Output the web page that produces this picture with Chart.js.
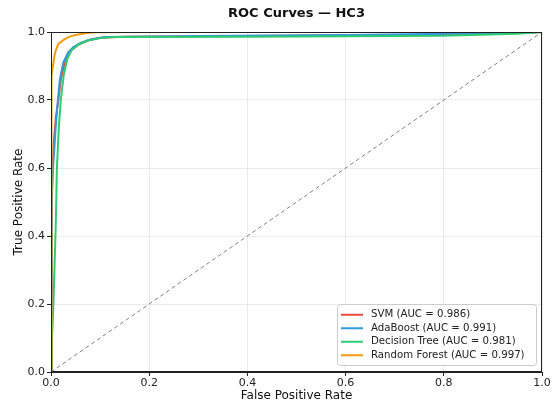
<!DOCTYPE html>
<html>
<head>
<meta charset="utf-8">
<script src="https://cdn.jsdelivr.net/npm/chart.js@4/dist/chart.umd.min.js"></script>
<style>
    html, body { margin: 0; padding: 0; background: #fff; }
    #wrap { width: 552px; height: 402px; }
</style>
</head>
<body>
<div id="wrap"><canvas id="roc" width="552" height="402"></canvas></div>
<script>
        // ROC points (FPR, TPR)
        const svmFpr = [0, 0.001, 0.002, 0.003, 0.006, 0.010, 0.015, 0.020, 0.028, 0.040, 0.055, 0.075, 0.1, 0.15, 0.4, 0.8, 0.95, 1.0];
        const svmTpr = [0, 0.2, 0.45, 0.6, 0.68, 0.75, 0.80, 0.86, 0.91, 0.945, 0.962, 0.975, 0.983, 0.986, 0.988, 0.992, 0.997, 1.0];

        const adaFpr = [0, 0.001, 0.002, 0.004, 0.007, 0.010, 0.014, 0.018, 0.025, 0.035, 0.045, 0.06, 0.08, 0.11, 0.3, 0.6, 0.9, 1.0];
        const adaTpr = [0, 0.35, 0.52, 0.6, 0.66, 0.73, 0.8, 0.86, 0.91, 0.94, 0.955, 0.968, 0.978, 0.985, 0.988, 0.991, 0.996, 1.0];

        const dtFpr = [0, 0.002, 0.005, 0.008, 0.010, 0.012, 0.016, 0.020, 0.026, 0.033, 0.042, 0.055, 0.075, 0.1, 0.13, 0.4, 0.8, 0.95, 1.0];
        const dtTpr = [0, 0.1, 0.2, 0.35, 0.45, 0.6, 0.72, 0.8, 0.874, 0.92, 0.947, 0.962, 0.975, 0.982, 0.985, 0.986, 0.989, 0.995, 1.0];

        const rfFpr = [0, 0, 0.001, 0.002, 0.004, 0.007, 0.010, 0.015, 0.025, 0.035, 0.05, 0.07, 0.09, 0.2, 0.5, 1.0];
        const rfTpr = [0, 0.68, 0.8, 0.87, 0.9, 0.93, 0.947, 0.965, 0.976, 0.985, 0.991, 0.996, 0.999, 1.0, 1.0, 1.0];

        const chanceLine = [0, 1];
        const modelLabels = ['SVM (AUC = 0.986)', 'AdaBoost (AUC = 0.991)', 'Decision Tree (AUC = 0.981)', 'Random Forest (AUC = 0.997)'];
        const tickValues = [0, 0.2, 0.4, 0.6, 0.8, 1.0];
        const chartTitle = 'ROC Curves — HC3';

        const toPoints = (xs, ys) => xs.map((x, i) => ({ x: x, y: ys[i] }));

        const FONT = 'DejaVu Sans';

        // title centred over the plot area (matplotlib style), plus the frame
        const framePlugin = {
            id: 'frame',
            afterDatasetsDraw(chart) {
                const a = chart.chartArea;
                const ctx = chart.ctx;
                ctx.save();
                ctx.strokeStyle = '#222';
                ctx.lineWidth = 1;
                ctx.strokeRect(a.left + 0.5, a.top + 0.5, a.right - a.left - 1, a.bottom - a.top - 1);
                ctx.fillStyle = '#111';
                ctx.font = 'bold 13px ' + FONT;
                ctx.textAlign = 'center';
                ctx.textBaseline = 'middle';
                ctx.fillText(chartTitle, (a.left + a.right) / 2, 14);
                ctx.restore();
            }
        };

        // legend box in the lower right of the plot
        const legendPlugin = {
            id: 'innerLegend',
            afterDraw(chart) {
                const a = chart.chartArea;
                const ctx = chart.ctx;
                const sets = chart.data.datasets.filter(d => d.inLegend);
                const rowH = 13.5;
                const boxW = 199;
                const boxH = sets.length * rowH + 7;
                const bx = a.right - 6 - boxW;
                const by = a.bottom - 7 - boxH;
                ctx.save();
                ctx.fillStyle = 'rgba(255,255,255,0.85)';
                ctx.strokeStyle = '#cccccc';
                ctx.lineWidth = 1;
                ctx.beginPath();
                ctx.roundRect(bx + 0.5, by + 0.5, boxW, boxH, 3);
                ctx.fill();
                ctx.stroke();
                ctx.font = '10.2px ' + FONT;
                ctx.textBaseline = 'middle';
                sets.forEach((d, i) => {
                    const cy = by + 4 + rowH * i + rowH / 2;
                    ctx.strokeStyle = d.borderColor;
                    ctx.lineWidth = 2;
                    ctx.beginPath();
                    ctx.moveTo(bx + 4, cy);
                    ctx.lineTo(bx + 26, cy);
                    ctx.stroke();
                    ctx.fillStyle = '#222';
                    ctx.fillText(d.label, bx + 34, cy);
                });
                ctx.restore();
            }
        };

        const ctx = document.getElementById('roc').getContext('2d');
        const rocChart = new Chart(ctx, {
            type: 'line',
            data: {
                datasets: [
                    {
                        label: 'Chance',
                        data: toPoints(chanceLine, chanceLine),
                        borderColor: '#808080',
                        borderWidth: 1,
                        borderDash: [4, 3],
                        pointRadius: 0,
                        inLegend: false,
                        order: 5
                    },
                    {
                        label: modelLabels[0],
                        data: toPoints(svmFpr, svmTpr),
                        borderColor: '#e74c3c',
                        borderWidth: 2,
                        pointRadius: 0,
                        inLegend: true,
                        order: 4
                    },
                    {
                        label: modelLabels[1],
                        data: toPoints(adaFpr, adaTpr),
                        borderColor: '#3498db',
                        borderWidth: 2,
                        pointRadius: 0,
                        inLegend: true,
                        order: 3
                    },
                    {
                        label: modelLabels[2],
                        data: toPoints(dtFpr, dtTpr),
                        borderColor: '#2ecc71',
                        borderWidth: 2,
                        pointRadius: 0,
                        inLegend: true,
                        order: 2
                    },
                    {
                        label: modelLabels[3],
                        data: toPoints(rfFpr, rfTpr),
                        borderColor: '#f39c12',
                        borderWidth: 2,
                        pointRadius: 0,
                        inLegend: true,
                        order: 1
                    }
                ]
            },
            options: {
                responsive: false,
                animation: false,
                layout: { padding: { left: 0, right: 10, top: 32, bottom: 0 } },
                plugins: {
                    legend: { display: false },
                    tooltip: { enabled: false },
                    title: { display: false }
                },
                scales: {
                    x: {
                        type: 'linear',
                        min: 0,
                        max: 1,
                        afterBuildTicks: s => { s.ticks = tickValues.map(v => ({ value: v })); },
                        afterFit: s => { s.height = 30; },
                        ticks: {
                            color: '#222',
                            font: { family: FONT, size: 11 },
                            padding: 1,
                            maxRotation: 0,
                            callback: v => v.toFixed(1)
                        },
                        grid: { color: 'rgba(0,0,0,0.08)', tickColor: '#222', tickLength: 4 },
                        border: { color: '#222' },
                        title: {
                            display: true,
                            text: 'False Positive Rate',
                            color: '#111',
                            font: { family: FONT, size: 12, lineHeight: 1 },
                            padding: { top: 0, bottom: 0 }
                        }
                    },
                    y: {
                        type: 'linear',
                        min: 0,
                        max: 1,
                        afterBuildTicks: s => { s.ticks = tickValues.map(v => ({ value: v })); },
                        afterFit: s => { s.width = 51; },
                        ticks: {
                            color: '#222',
                            font: { family: FONT, size: 11 },
                            padding: 2,
                            callback: v => v.toFixed(1)
                        },
                        grid: { color: 'rgba(0,0,0,0.08)', tickColor: '#222', tickLength: 4 },
                        border: { color: '#222' },
                        title: {
                            display: true,
                            text: 'True Positive Rate',
                            color: '#111',
                            font: { family: FONT, size: 12, lineHeight: 1 },
                            padding: { top: 13, bottom: 0 }
                        }
                    }
                }
            },
            plugins: [framePlugin, legendPlugin]
        });
</script>
</body>
</html>
